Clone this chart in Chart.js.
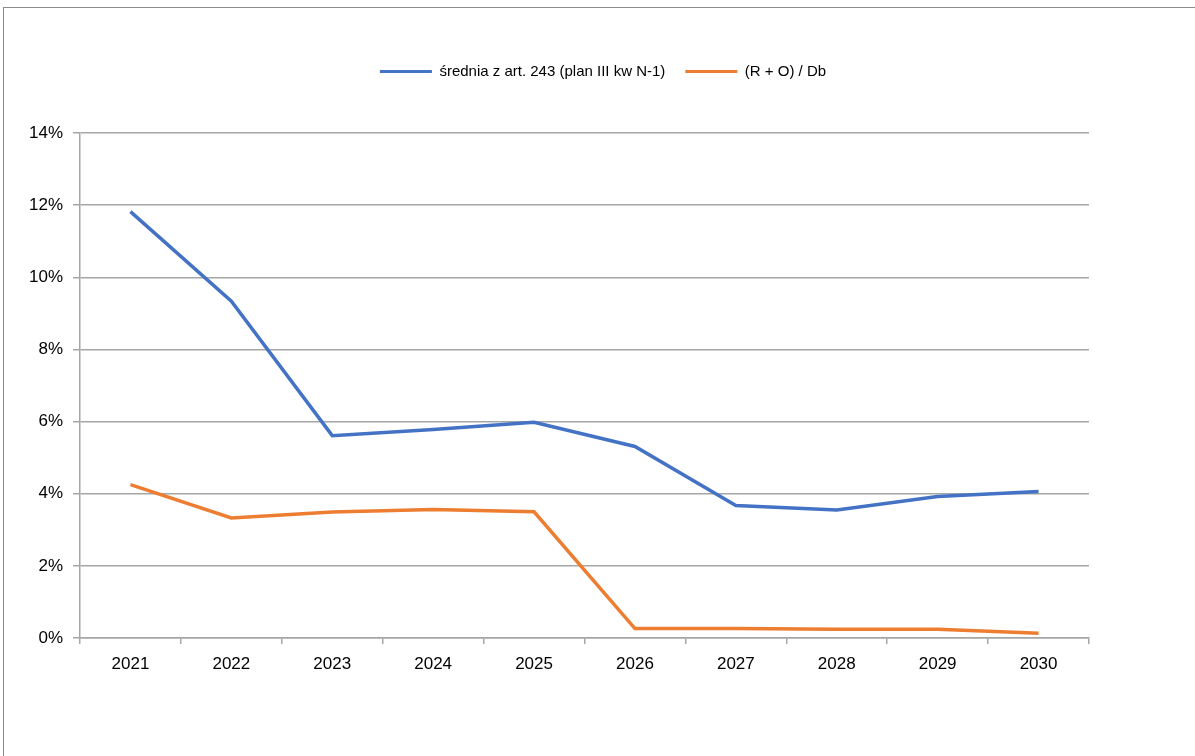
<!DOCTYPE html>
<html>
<head>
<meta charset="utf-8">
<script src="https://cdn.jsdelivr.net/npm/chart.js@4"></script>
<style>
    html, body { margin: 0; padding: 0; background: #fff; overflow: hidden; }
    #frame {
        position: absolute; left: 3px; top: 7px;
        width: 1300px; height: 900px;
        border-left: 1px solid #8c8c8c; border-top: 1px solid #8c8c8c;
    }
    #wrap { position: absolute; left: 0; top: 0; width: 1195px; height: 756px; }
</style>
</head>
<body>
<div id="frame"></div>
<div id="wrap"><canvas id="chart"></canvas></div>
<script>
    // Lata i wartości serii (w %)
    const years = ['2021', '2022', '2023', '2024', '2025', '2026', '2027', '2028', '2029', '2030'];
    const sredniaArt243 = [11.82, 9.34, 5.61, 5.78, 5.98, 5.31, 3.67, 3.55, 3.92, 4.06];
    const roDb = [4.25, 3.33, 3.49, 3.56, 3.50, 0.26, 0.26, 0.24, 0.24, 0.13];
    const yTicks = [0, 2, 4, 6, 8, 10, 12, 14];

    const FONT = "'Liberation Sans', Arial, sans-serif";
    const GRID = '#a6a6a6';

    // dodatkowy odstęp pod legendą
    const legendGap = {
        id: 'legendGap',
        beforeInit(chart) {
            const fit = chart.legend.fit;
            chart.legend.fit = function () {
                fit.call(this);
                this.height += 44;
            };
        }
    };

    const ctx = document.getElementById('chart').getContext('2d');
    new Chart(ctx, {
        type: 'line',
        data: {
            labels: years,
            datasets: [{
                label: 'średnia z art. 243 (plan III kw N-1)',
                data: sredniaArt243,
                borderColor: '#4472C4',
                backgroundColor: '#4472C4',
                borderWidth: 3.5,
                pointRadius: 0,
                tension: 0
            }, {
                label: '(R + O) / Db',
                data: roDb,
                borderColor: '#ED7D31',
                backgroundColor: '#ED7D31',
                borderWidth: 3.5,
                pointRadius: 0,
                tension: 0
            }]
        },
        plugins: [legendGap],
        options: {
            responsive: true,
            maintainAspectRatio: false,
            animation: false,
            layout: { padding: { left: 11, right: 0, top: 44, bottom: 0 } },
            plugins: {
                tooltip: { enabled: false },
                legend: {
                    position: 'top',
                    labels: {
                        color: '#000',
                        font: { family: FONT, size: 15 },
                        boxWidth: 52,
                        boxHeight: 3,
                        padding: 20,
                        generateLabels(chart) {
                            const items = Chart.defaults.plugins.legend.labels.generateLabels(chart);
                            items.forEach(it => { it.lineWidth = 0; });
                            return items;
                        }
                    }
                }
            },
            scales: {
                x: {
                    offset: true,
                    afterFit(scale) { scale.height = 118; },
                    grid: {
                        offset: true,
                        drawOnChartArea: false,
                        drawTicks: true,
                        tickLength: 6,
                        color: GRID,
                        lineWidth: 1.5
                    },
                    border: { color: GRID, width: 1.5 },
                    ticks: {
                        color: '#000',
                        font: { family: FONT, size: 17 },
                        padding: 10,
                        maxRotation: 0
                    }
                },
                y: {
                    min: 0,
                    max: 14,
                    afterFit(scale) { scale.width = 69; },
                    afterBuildTicks(scale) { scale.ticks = yTicks.map(v => ({ value: v })); },
                    grid: {
                        color: GRID,
                        lineWidth: 1.5,
                        drawTicks: true,
                        tickLength: 7
                    },
                    border: { color: GRID, width: 1.5 },
                    ticks: {
                        color: '#000',
                        font: { family: FONT, size: 17 },
                        padding: 10,
                        callback: v => v + '%'
                    }
                },
                // pusty margines po prawej stronie wykresu
                yRight: {
                    position: 'right',
                    afterFit(scale) { scale.width = 106; },
                    grid: { display: false },
                    border: { display: false },
                    ticks: { display: false }
                }
            }
        }
    });
</script>
</body>
</html>
